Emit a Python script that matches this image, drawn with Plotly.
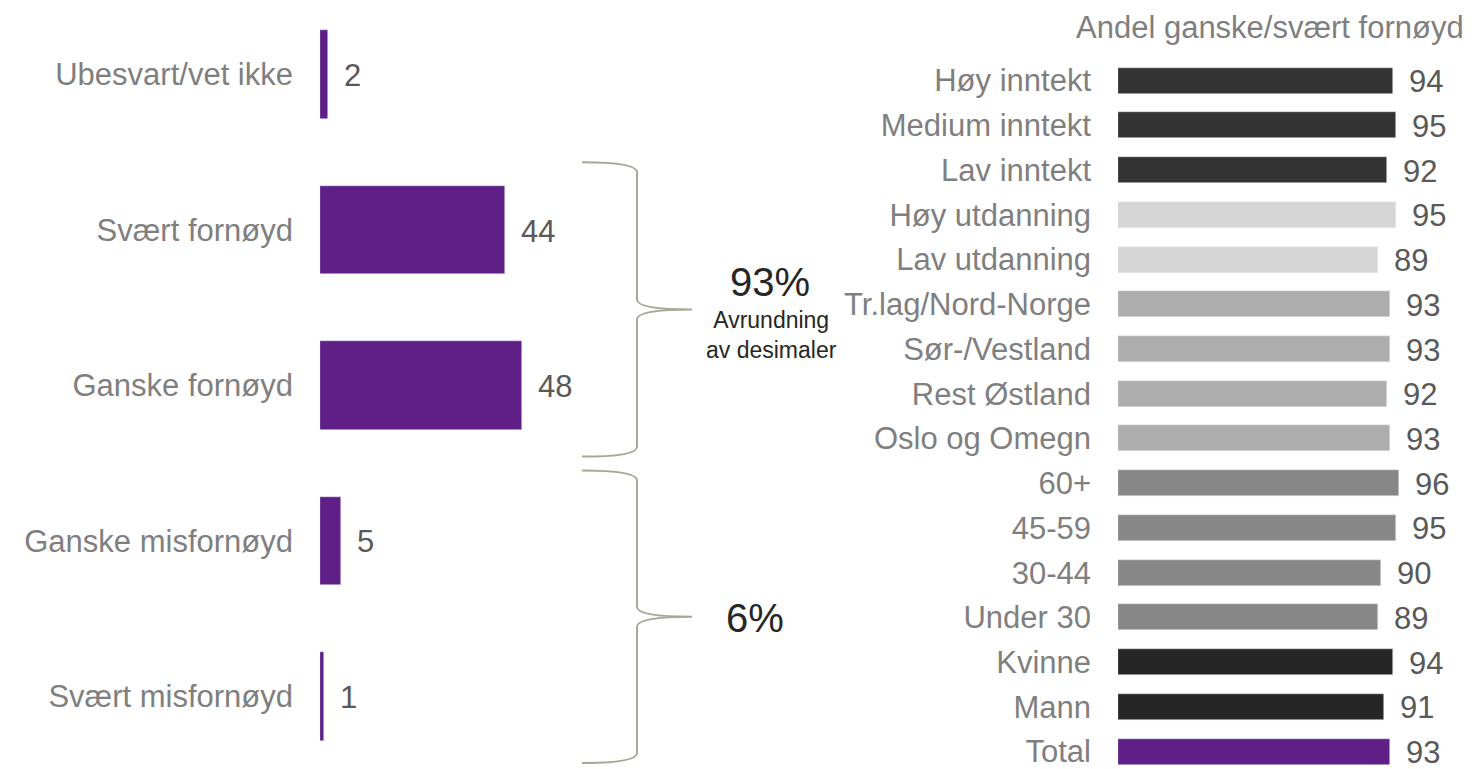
import plotly.graph_objects as go

W, H = 1476, 769

# left panel: distribution
left_cats = ["Ubesvart/vet ikke", "Svært fornøyd", "Ganske fornøyd",
             "Ganske misfornøyd", "Svært misfornøyd"]
left_vals = [2, 44, 48, 5, 1]

# right panel: share fairly/very satisfied by group
right_cats = ["Høy inntekt", "Medium inntekt", "Lav inntekt", "Høy utdanning",
              "Lav utdanning", "Tr.lag/Nord-Norge", "Sør-/Vestland", "Rest Østland",
              "Oslo og Omegn", "60+", "45-59", "30-44", "Under 30", "Kvinne",
              "Mann", "Total"]
right_vals = [94, 95, 92, 95, 89, 93, 93, 92, 93, 96, 95, 90, 89, 94, 91, 93]
right_title = "Andel ganske/svært fornøyd"

# summary brackets
sum_pos = "93%"
sum_pos_note = "Avrundning<br>av desimaler"
sum_neg = "6%"

PURPLE = "#5f1f87"
right_colors = (["#333333"] * 3 + ["#d6d6d6"] * 2 + ["#adadad"] * 4
                + ["#878787"] * 4 + ["#262626"] * 2 + [PURPLE])

FONT = "Arial, Liberation Sans, sans-serif"
LBL = "#7f7f7f"
VAL = "#595959"
FS = 31


def px(x):
    return x / W


def py(y):
    return 1 - y / H


fig = go.Figure()

fig.add_trace(go.Bar(
    x=left_vals, y=left_cats, orientation="h", marker_color=PURPLE,
    width=0.57, xaxis="x", yaxis="y", hoverinfo="skip",
))
fig.add_trace(go.Bar(
    x=right_vals, y=right_cats, orientation="h", marker_color=right_colors,
    width=0.58, xaxis="x2", yaxis="y2", hoverinfo="skip",
))

annotations = []
for c, v in zip(left_cats, left_vals):
    annotations.append(dict(x=v, y=c, xref="x", yref="y", text=str(v),
                            xanchor="left", xshift=14, yshift=-1, showarrow=False,
                            font=dict(size=FS, color=VAL, family=FONT)))
for c, v in zip(right_cats, right_vals):
    annotations.append(dict(x=v, y=c, xref="x2", yref="y2", text=str(v),
                            xanchor="left", xshift=14, yshift=-1, showarrow=False,
                            font=dict(size=FS, color=VAL, family=FONT)))

annotations += [
    dict(x=px(1270), y=py(28), xref="paper", yref="paper", text=right_title,
         xanchor="center", yanchor="middle",
         showarrow=False, font=dict(size=FS, color=LBL, family=FONT)),
    dict(x=px(770), y=py(283), xref="paper", yref="paper", text=sum_pos,
         xanchor="center", yanchor="middle",
         showarrow=False, font=dict(size=40, color="#262626", family=FONT)),
    dict(x=px(771), y=py(337), xref="paper", yref="paper", text=sum_pos_note,
         xanchor="center", yanchor="middle",
         showarrow=False, font=dict(size=23, color="#262626", family=FONT)),
    dict(x=px(755), y=py(621), xref="paper", yref="paper", text=sum_neg,
         xanchor="center", yanchor="middle",
         showarrow=False, font=dict(size=40, color="#262626", family=FONT)),
]


def brace(xt, xv, xp, ytop, ybot, r=10):
    ym = (ytop + ybot) / 2
    pts = [
        ("M", xt, ytop), ("Q", xv, ytop), ("", xv, ytop + r),
        ("L", xv, ym - r), ("Q", xv, ym), ("", xp, ym),
        ("Q", xv, ym), ("", xv, ym + r),
        ("L", xv, ybot - r), ("Q", xv, ybot), ("", xt, ybot),
    ]
    return " ".join(f"{c} {px(x):.5f},{py(y):.5f}" if c else f"{px(x):.5f},{py(y):.5f}"
                    for c, x, y in pts)


shapes = [
    dict(type="path", xref="paper", yref="paper", path=brace(582, 637, 692, 163, 459),
         line=dict(color="#a8a898", width=2)),
    dict(type="path", xref="paper", yref="paper", path=brace(582, 637, 692, 473, 767),
         line=dict(color="#a8a898", width=2)),
]

fig.update_layout(
    width=W, height=H, margin=dict(l=0, r=0, t=0, b=0),
    paper_bgcolor="white", plot_bgcolor="white",
    showlegend=False, bargap=0,
    font=dict(family=FONT, size=FS, color=LBL),
    xaxis=dict(domain=[px(320), px(320 + 60 * 4.21)], range=[0, 60],
               visible=False, fixedrange=True),
    yaxis=dict(domain=[0, 1], type="category", categoryarray=left_cats,
               range=[(H - 75) / 156.25, -75 / 156.25],
               showgrid=False, zeroline=False, showline=False, ticks="",
               ticklabelstandoff=26, tickfont=dict(size=FS, color=LBL)),
    xaxis2=dict(domain=[px(1118), px(1118 + 100 * 2.925)], range=[0, 100],
                visible=False, fixedrange=True),
    yaxis2=dict(domain=[0, 1], anchor="x2", type="category", categoryarray=right_cats,
                range=[(H - 81) / 44.97, -81 / 44.97],
                showgrid=False, zeroline=False, showline=False, ticks="",
                ticklabelstandoff=26, tickfont=dict(size=FS, color=LBL)),
    annotations=annotations,
    shapes=shapes,
)

fig.write_html("out.html", config={"displayModeBar": False},
               post_script="document.body.style.margin='0';")
